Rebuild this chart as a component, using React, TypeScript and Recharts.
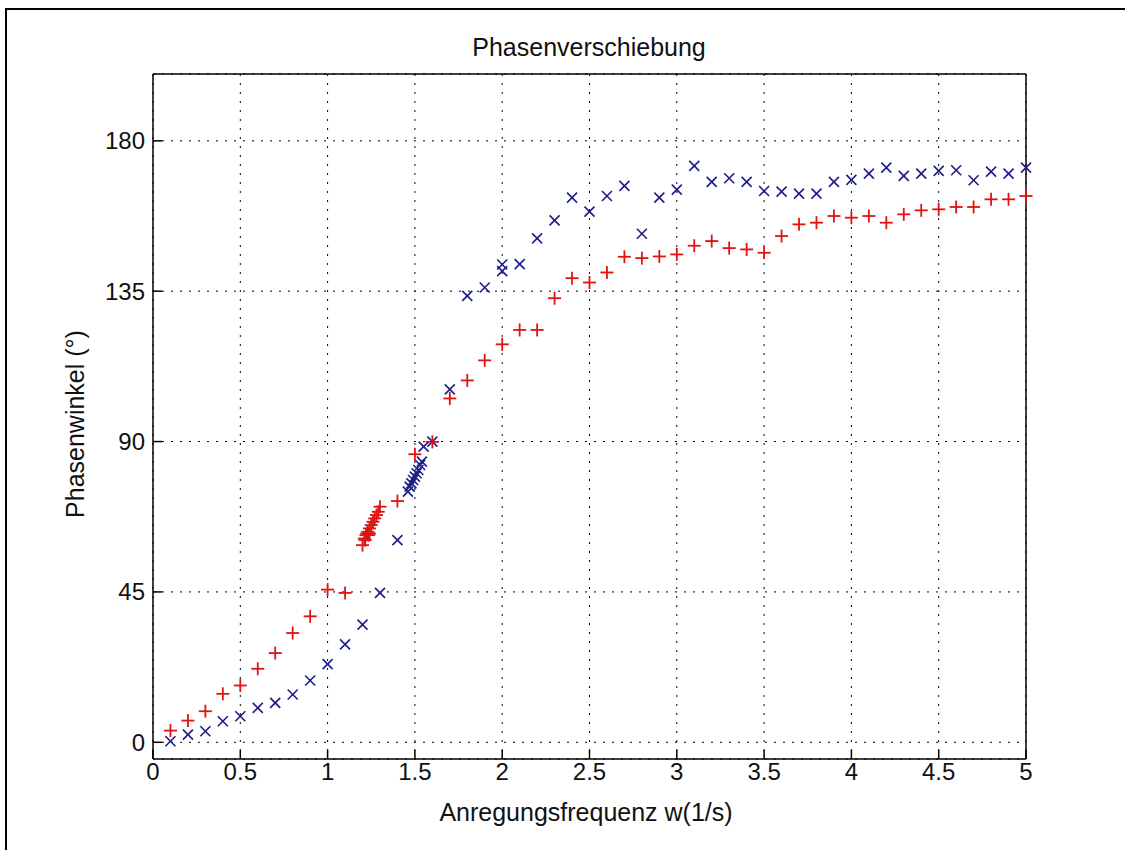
import React from "react";
import { CartesianGrid, Scatter, ScatterChart, XAxis, YAxis } from "recharts";

// Anregungsfrequenz w (1/s) und Phasenwinkel (°)
const blueX = [
  0.1, 0.2, 0.3, 0.4, 0.5, 0.6, 0.7, 0.8, 0.9, 1.0, 1.1, 1.2, 1.3, 1.4,
  1.46, 1.47, 1.48, 1.49, 1.5, 1.51, 1.52, 1.53, 1.54, 1.55, 1.6, 1.7, 1.8, 1.9,
  2.0, 2.0, 2.1, 2.2, 2.3, 2.4, 2.5, 2.6, 2.7, 2.8, 2.9, 3.0, 3.1, 3.2, 3.3, 3.4,
  3.5, 3.6, 3.7, 3.8, 3.9, 4.0, 4.1, 4.2, 4.3, 4.4, 4.5, 4.6, 4.7, 4.8, 4.9, 5.0,
];
const blueY = [
  0.3, 2.3, 3.3, 6.3, 7.8, 10.3, 11.8, 14.3, 18.5, 23.4, 29.3, 35.2, 44.7, 60.5,
  75, 76.5, 77.5, 78.5, 79.5, 80.5, 81.5, 83, 84, 88.5, 90, 105.6, 133.6, 136.1,
  141, 143, 143.1, 150.8, 156.2, 163, 158.8, 163.5, 166.5, 152.2, 163, 165.4, 172.5, 167.7, 168.8, 167.7,
  165, 164.8, 164.2, 164.2, 167.7, 168.3, 170.2, 172, 169.5, 170.2, 171, 171.2, 168.2, 170.8, 170.2, 172,
];

const redX = [
  0.1, 0.2, 0.3, 0.4, 0.5, 0.6, 0.7, 0.8, 0.9, 1.0, 1.1,
  1.2, 1.21, 1.215, 1.22, 1.225, 1.23, 1.235, 1.24, 1.24, 1.25, 1.26, 1.27, 1.28, 1.29, 1.3,
  1.4, 1.5, 1.6, 1.7, 1.8, 1.9, 2.0, 2.1, 2.2, 2.3, 2.4, 2.5, 2.6, 2.7, 2.8, 2.9,
  3.0, 3.1, 3.2, 3.3, 3.4, 3.5, 3.6, 3.7, 3.8, 3.9, 4.0, 4.1, 4.2, 4.3, 4.4, 4.5,
  4.6, 4.7, 4.8, 4.9, 5.0,
];
const redY = [
  3.5, 6.5, 9.3, 14.5, 17, 22, 26.7, 32.7, 37.7, 45.7, 44.7,
  59, 61, 60.5, 62, 62.5, 63, 62, 62.5, 64, 65, 66, 67, 68, 69, 70.5,
  72.2, 86.2, 89.9, 102.9, 108.3, 114.3, 119.1, 123.4, 123.4, 132.9, 138.9, 137.6, 140.6, 145.3, 144.9, 145.4,
  146, 148.6, 150, 147.9, 147.5, 146.5, 151.5, 155, 155.5, 157.5, 157, 157.5, 155.5, 158, 159.2, 159.5,
  160.2, 160.2, 162.5, 162.5, 163.5,
];

const xTicks = [0, 0.5, 1, 1.5, 2, 2.5, 3, 3.5, 4, 4.5, 5];
const yTicks = [0, 45, 90, 135, 180];

const blueData = blueX.map((x, i) => ({ x, y: blueY[i] }));
const redData = redX.map((x, i) => ({ x, y: redY[i] }));

const font = '"Liberation Sans", Arial, sans-serif';
const tickStyle = { fill: "#111", fontSize: 24, fontFamily: font };
const boxLine = { stroke: "#000", strokeWidth: 1.5 };

function CrossMark({ cx, cy }: any) {
  const s = 5;
  return (
    <g stroke="#1c1c8a" strokeWidth={1.6}>
      <line x1={cx - s} y1={cy - s} x2={cx + s} y2={cy + s} />
      <line x1={cx - s} y1={cy + s} x2={cx + s} y2={cy - s} />
    </g>
  );
}

function PlusMark({ cx, cy }: any) {
  const s = 6.5;
  return (
    <g stroke="#e01212" strokeWidth={1.8}>
      <line x1={cx - s} y1={cy} x2={cx + s} y2={cy} />
      <line x1={cx} y1={cy - s} x2={cx} y2={cy + s} />
    </g>
  );
}

const NoLabel = () => <g />;

export default function App() {
  return (
    <div style={{ position: "absolute", left: 0, top: 0, width: 1125, height: 850, overflow: "hidden", background: "#fff", fontFamily: font }}>
      <div style={{ position: "absolute", left: 5, top: 8, width: 1120, height: 842, borderLeft: "2px solid #000", borderTop: "2px solid #000" }} />
      <div style={{ position: "absolute", left: 0, top: 0 }}>
        <ScatterChart width={1125} height={850} margin={{ top: 64, right: 89, bottom: 51, left: 93 }}>
          <CartesianGrid stroke="#000" strokeDasharray="2 7" />
          <XAxis
            dataKey="x"
            type="number"
            domain={[0, 5]}
            ticks={xTicks}
            height={40}
            tickSize={-9}
            tickMargin={13}
            tick={tickStyle}
            axisLine={boxLine}
            tickLine={boxLine}
          />
          <XAxis
            xAxisId="top"
            orientation="top"
            type="number"
            domain={[0, 5]}
            ticks={xTicks}
            height={10}
            tickSize={-9}
            tick={NoLabel}
            axisLine={boxLine}
            tickLine={boxLine}
          />
          <YAxis
            dataKey="y"
            type="number"
            domain={[-5, 200]}
            ticks={yTicks}
            width={60}
            tickSize={-9}
            tickMargin={17}
            tick={tickStyle}
            axisLine={boxLine}
            tickLine={boxLine}
          />
          <YAxis
            yAxisId="right"
            orientation="right"
            type="number"
            domain={[-5, 200]}
            ticks={yTicks}
            width={10}
            tickSize={-9}
            tick={NoLabel}
            axisLine={boxLine}
            tickLine={boxLine}
          />
          <Scatter data={blueData} shape={(p: any) => <CrossMark {...p} />} isAnimationActive={false} />
          <Scatter data={redData} shape={(p: any) => <PlusMark {...p} />} isAnimationActive={false} />
        </ScatterChart>
      </div>
      <div style={{ position: "absolute", left: 389, width: 400, top: 33, textAlign: "center", fontSize: 25, color: "#111", lineHeight: "28px" }}>
        Phasenverschiebung
      </div>
      <div style={{ position: "absolute", left: 386, width: 400, top: 798, textAlign: "center", fontSize: 25, color: "#111", lineHeight: "28px" }}>
        Anregungsfrequenz w(1/s)
      </div>
      <div
        style={{
          position: "absolute",
          left: 75 - 150,
          top: 424 - 14,
          width: 300,
          textAlign: "center",
          fontSize: 25,
          color: "#111",
          lineHeight: "28px",
          transform: "rotate(-90deg)",
        }}
      >
        Phasenwinkel (°)
      </div>
    </div>
  );
}
